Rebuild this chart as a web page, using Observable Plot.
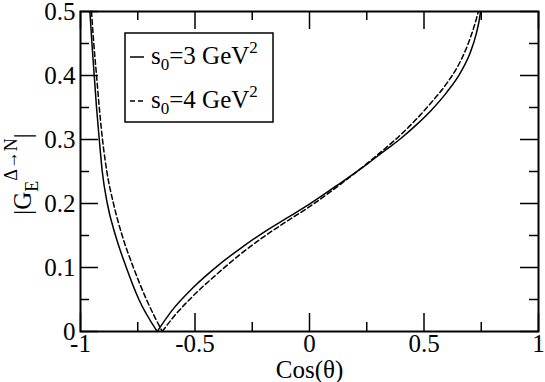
<!DOCTYPE html>
<html>
<head>
<meta charset="utf-8">
<script src="https://cdn.jsdelivr.net/npm/d3@7"></script>
<script src="https://cdn.jsdelivr.net/npm/@observablehq/plot@0.6"></script>
<style>
  body { margin: 0; background: #fff; }
  svg, svg text { font-family: "Liberation Serif", "DejaVu Serif", serif !important; }
</style>
</head>
<body>
<div id="chart"></div>
<script>
// ---- data ----
const s3X = [-0.959, -0.950, -0.940, -0.930, -0.918, -0.905, -0.883, -0.847, -0.800, -0.745, -0.665,
             -0.600, -0.507, -0.400, -0.301, -0.200, -0.100, 0.000, 0.135, 0.253, 0.330, 0.400, 0.470, 0.530, 0.600, 0.660, 0.700, 0.728, 0.745, 0.750];
const s3Y = [0.500, 0.450, 0.400, 0.350, 0.300, 0.250, 0.200, 0.150, 0.100, 0.050, 0.000,
             0.033, 0.069, 0.103, 0.130, 0.155, 0.177, 0.199, 0.232, 0.262, 0.283, 0.302, 0.324, 0.345, 0.374, 0.405, 0.434, 0.465, 0.495, 0.510];
const s4X = [-0.952, -0.942, -0.930, -0.918, -0.904, -0.885, -0.856, -0.818, -0.769, -0.712, -0.643,
             -0.600, -0.507, -0.400, -0.301, -0.200, -0.100, 0.000, 0.135, 0.253, 0.330, 0.400, 0.470, 0.530, 0.600, 0.650, 0.690, 0.720, 0.745];
const s4Y = [0.500, 0.450, 0.400, 0.350, 0.300, 0.250, 0.200, 0.150, 0.100, 0.050, 0.000,
             0.020, 0.056, 0.091, 0.121, 0.148, 0.172, 0.195, 0.230, 0.263, 0.286, 0.308, 0.333, 0.357, 0.388, 0.416, 0.447, 0.478, 0.510];
const seriesBase = ["s", "s"];
const seriesSub = ["0", "0"];
const seriesMid = ["=3 GeV", "=4 GeV"];
const seriesSup = ["2", "2"];
const seriesDash = ["none", "5,3"];
const xTicks = [-1, -0.5, 0, 0.5, 1];
const xTickLabels = ["-1", "-0.5", "0", "0.5", "1"];
const xMinor = [-0.75, -0.25, 0.25, 0.75];
const yTicks = [0, 0.1, 0.2, 0.3, 0.4, 0.5];
const yTickLabels = ["0", "0.1", "0.2", "0.3", "0.4", "0.5"];
const yMinor = [0.05, 0.15, 0.25, 0.35, 0.45];
const xTitle = "Cos(θ)";
const yTitleMain = "|G", yTitleSub = "E", yTitleSup = "Δ→N", yTitleEnd = "|";

// ---- layout ----
const W = 545, H = 382, mL = 80, mR = 7, mT = 11, mB = 51;
const innerW = W - mL - mR, innerH = H - mT - mB;
const major = 18, minor = 9;
const serif = "Liberation Serif";
const fs = 25;

// split each curve into its two branches at the zero point (sharp V)
function branches(xs, ys) {
  const k = ys.indexOf(0);
  const out = [];
  xs.forEach((x, i) => {
    if (i <= k) out.push({x, y: ys[i], b: "left"});
    if (i >= k) out.push({x, y: ys[i], b: "right"});
  });
  return out;
}
const d3s = branches(s3X, s3Y);
const d4s = branches(s4X, s4Y);

const chart = Plot.plot({
  width: W, height: H,
  marginLeft: mL, marginRight: mR, marginTop: mT, marginBottom: mB,
  x: {domain: [-1, 1], axis: null},
  y: {domain: [0, 0.5], axis: null},
  style: {fontFamily: serif, fontSize: fs + "px", background: "white", color: "black", overflow: "visible"},
  marks: [
    Plot.line(d3s, {x: "x", y: "y", z: "b", stroke: "black", strokeWidth: 1.5, curve: "monotone-x", clip: true}),
    Plot.line(d4s, {x: "x", y: "y", z: "b", stroke: "black", strokeWidth: 1.5, strokeDasharray: "5,3", curve: "monotone-x", clip: true}),
    // inward ticks
    Plot.tickX(xTicks, {x: d => d, insetTop: innerH - major, stroke: "black", strokeWidth: 1.5}),
    Plot.tickX(xTicks, {x: d => d, insetBottom: innerH - major, stroke: "black", strokeWidth: 1.5}),
    Plot.tickX(xMinor, {x: d => d, insetTop: innerH - minor, stroke: "black", strokeWidth: 1.5}),
    Plot.tickX(xMinor, {x: d => d, insetBottom: innerH - minor, stroke: "black", strokeWidth: 1.5}),
    Plot.tickY(yTicks, {y: d => d, insetRight: innerW - major, stroke: "black", strokeWidth: 1.5}),
    Plot.tickY(yTicks, {y: d => d, insetLeft: innerW - major, stroke: "black", strokeWidth: 1.5}),
    Plot.tickY(yMinor, {y: d => d, insetRight: innerW - minor, stroke: "black", strokeWidth: 1.5}),
    Plot.tickY(yMinor, {y: d => d, insetLeft: innerW - minor, stroke: "black", strokeWidth: 1.5}),
    // tick labels
    Plot.text(xTicks, {x: d => d, text: (d, i) => xTickLabels[i], frameAnchor: "bottom", lineAnchor: "top",
      dy: 3, fontSize: fs, fontFamily: serif, fill: "black"}),
    Plot.text(yTicks, {y: d => d, text: (d, i) => yTickLabels[i], frameAnchor: "left", textAnchor: "end",
      lineAnchor: "middle", dx: -5, fontSize: fs, fontFamily: serif, fill: "black"}),
    Plot.text([xTitle], {text: d => d, frameAnchor: "bottom", lineAnchor: "bottom", dy: 46, fontSize: fs, fontFamily: serif, fill: "black"}),
    Plot.frame({stroke: "black", strokeWidth: 2})
  ]
});

const svg = d3.select(chart);

// y title (rotated)
const yt = svg.append("text")
  .attr("transform", "translate(31,174) rotate(-90)")
  .attr("text-anchor", "middle")
  .attr("font-size", fs)
  .attr("font-family", serif)
  .attr("fill", "black");
yt.append("tspan").text(yTitleMain);
yt.append("tspan").attr("font-size", 18).attr("dy", 7).text(yTitleSub);
yt.append("tspan").attr("font-size", 18).attr("dy", -21).text(yTitleSup);
yt.append("tspan").attr("dy", 14).text(yTitleEnd);

// legend
const lg = svg.append("g");
lg.append("rect").attr("x", 125).attr("y", 33).attr("width", 148).attr("height", 89)
  .attr("fill", "white").attr("stroke", "black").attr("stroke-width", 1.5);
seriesMid.forEach((m, i) => {
  const ly = 57 + i * 44;
  lg.append("line").attr("x1", 130).attr("x2", 144).attr("y1", ly).attr("y2", ly)
    .attr("stroke", "black").attr("stroke-width", 1.5)
    .attr("stroke-dasharray", seriesDash[i]);
  const t = lg.append("text").attr("x", 151).attr("y", ly + 7)
    .attr("text-anchor", "start").attr("font-size", fs).attr("font-family", serif).attr("fill", "black");
  t.append("tspan").text(seriesBase[i]);
  t.append("tspan").attr("font-size", 17).attr("dy", 6).text(seriesSub[i]);
  t.append("tspan").attr("dy", -6).text(m);
  t.append("tspan").attr("font-size", 17).attr("dy", -11).text(seriesSup[i]);
});

document.getElementById("chart").appendChild(chart);
</script>
</body>
</html>
